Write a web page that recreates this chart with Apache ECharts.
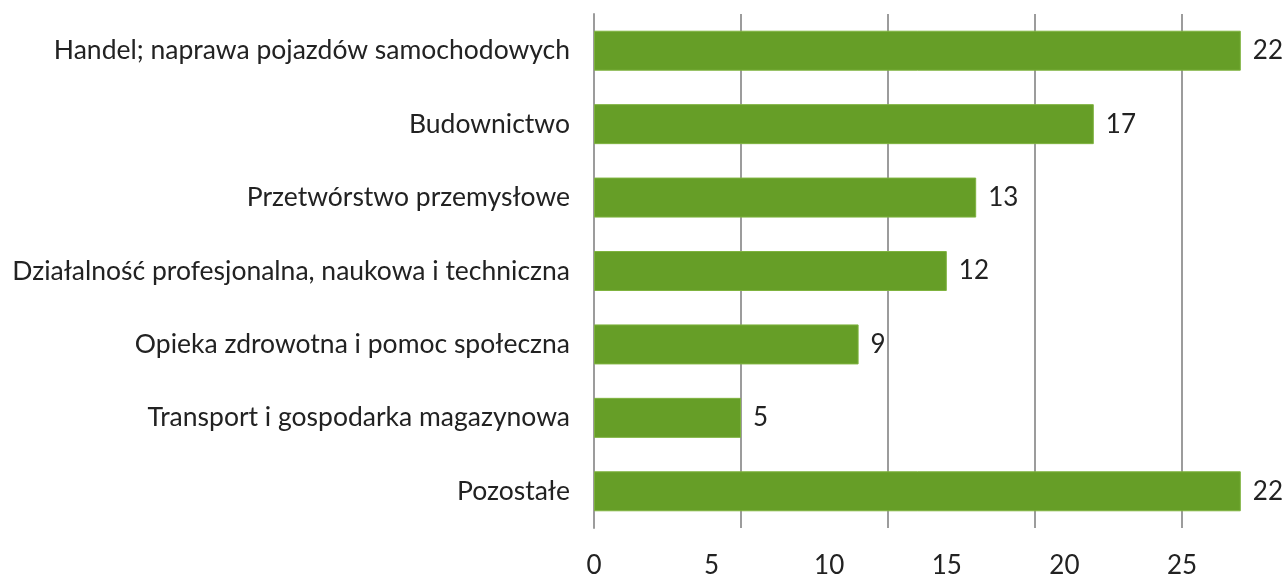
<!DOCTYPE html>
<html><head><meta charset="utf-8">
<script src="https://cdn.jsdelivr.net/npm/echarts@6/dist/echarts.min.js"></script>
<style>html,body{margin:0;padding:0;background:#fff}#c{width:1285px;height:577px}</style>
</head><body><div id="c"></div>
<script>
var categories = ["Handel; naprawa pojazdów samochodowych","Budownictwo","Przetwórstwo przemysłowe","Działalność profesjonalna, naukowa i techniczna","Opieka zdrowotna i pomoc społeczna","Transport i gospodarka magazynowa","Pozostałe"];
var values = [22, 17, 13, 12, 9, 5, 22];
var tickLabels = [0, 5, 10, 15, 20, 25];

var chart = echarts.init(document.getElementById('c'));
var FONT = 'Lato';
var TXT = '#222222';
chart.setOption({
  animation: false,
  textStyle: {fontFamily: FONT},
  grid: [
    {left: 594, top: 14, width: 735, height: 514, outerBoundsMode: 'none', containLabel: false},
    {left: 594, top: 14, width: 588, height: 514, outerBoundsMode: 'none', containLabel: false}
  ],
  xAxis: [
    {gridIndex: 0, type: 'value', min: 0, max: 25, interval: 5,
     axisLine: {show: false}, axisTick: {show: false}, axisLabel: {show: false},
     splitLine: {show: true, lineStyle: {color: '#9c9c9c', width: 2}}},
    {gridIndex: 1, type: 'value', min: tickLabels[0], max: tickLabels[tickLabels.length-1], interval: 5,
     axisLine: {show: false}, axisTick: {show: false}, splitLine: {show: false},
     axisLabel: {show: true, fontSize: 26, color: TXT, fontFamily: FONT, margin: 25}}
  ],
  yAxis: [
    {gridIndex: 0, type: 'category', data: categories, inverse: true,
     axisLine: {show: true, lineStyle: {color: '#9c9c9c', width: 2}},
     axisTick: {show: false},
     axisLabel: {fontSize: 26.5, color: TXT, fontFamily: FONT, margin: 24}},
    {gridIndex: 1, type: 'category', data: categories, inverse: true, show: false}
  ],
  series: [{
    type: 'bar', xAxisIndex: 0, yAxisIndex: 0, data: values, barWidth: 40,
    itemStyle: {color: '#669e27', borderColor: '#7fb33f', borderWidth: 1},
    label: {show: true, position: 'right', distance: 12, fontSize: 26, color: TXT, fontFamily: FONT}
  }]
});
</script></body></html>
